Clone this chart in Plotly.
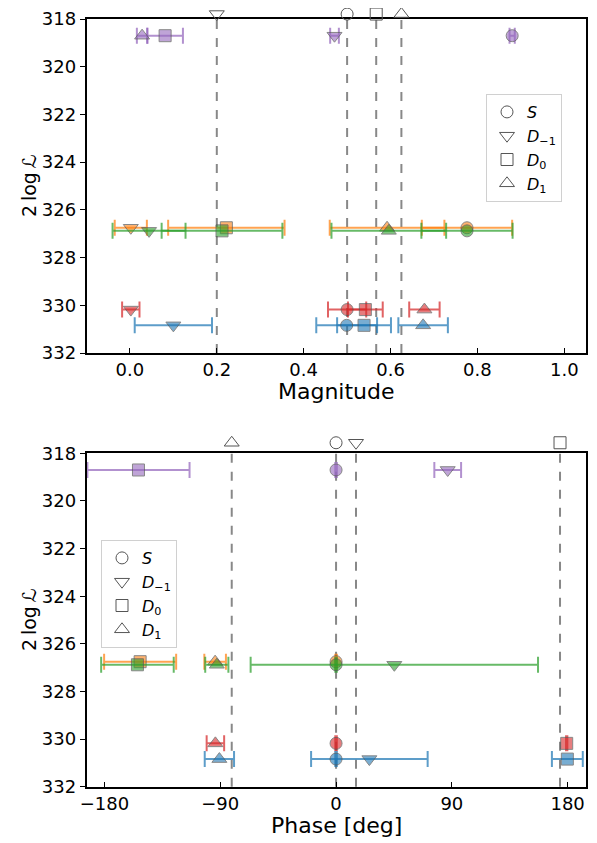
import plotly.graph_objects as go

# ---------------- data ----------------
hypotheses = ["S", "D-1", "D0", "D1"]
hyp_labels = ["<i>S</i>", "<i>D</i><sub>−1</sub>", "<i>D</i><sub>0</sub>", "<i>D</i><sub>1</sub>"]
hyp_symbols = ["circle", "triangle-down", "square", "triangle-up"]

series = ["purple", "orange", "green", "red", "blue"]
loglike = [318.7, 326.75, 326.88, 330.18, 330.84]
colors = ["148,103,189", "255,127,14", "44,160,44", "214,39,40", "31,119,180"]

# magnitude values [S, D-1, D0, D1] and symmetric errors
mag_purple = [0.880, 0.471, 0.081, 0.028]
mag_purple_err = [0.006, 0.010, 0.041, 0.012]
mag_orange = [0.776, 0.002, 0.222, 0.592]
mag_orange_err = [0.104, 0.037, 0.134, 0.132]
mag_green = [0.776, 0.044, 0.212, 0.596]
mag_green_err = [0.105, 0.084, 0.139, 0.132]
mag_red = [0.500, 0.002, 0.542, 0.678]
mag_red_err = [0.044, 0.020, 0.040, 0.035]
mag_blue = [0.499, 0.100, 0.539, 0.675]
mag_blue_err = [0.070, 0.089, 0.062, 0.057]

# phase values [S, D-1, D0, D1] (deg), None = not shown
ph_purple = [0.0, 86.8, -153.6, None]
ph_purple_err = [0.6, 10.4, 39.7, None]
ph_orange = [0.0, None, -152.3, -94.0]
ph_orange_err = [0.6, None, 28.0, 8.4]
ph_green = [0.0, 45.3, -154.4, -92.7]
ph_green_err = [0.6, 111.7, 28.2, 9.0]
ph_red = [0.0, None, 179.3, -93.8]
ph_red_err = [0.6, None, 0.5, 6.8]
ph_blue = [0.0, 25.9, 179.8, -90.7]
ph_blue_err = [0.6, 45.3, 12.0, 11.4]

# best-fit reference values (dashed lines)
best_mag = [0.5, 0.2, 0.567, 0.625]
best_phase = [0.0, 15.5, 174.1, -81.1]

mag_vals = [mag_purple, mag_orange, mag_green, mag_red, mag_blue]
mag_errs = [mag_purple_err, mag_orange_err, mag_green_err, mag_red_err, mag_blue_err]
ph_vals = [ph_purple, ph_orange, ph_green, ph_red, ph_blue]
ph_errs = [ph_purple_err, ph_orange_err, ph_green_err, ph_red_err, ph_blue_err]

FONT = "DejaVu Sans"
OFF = 8  # page body margin
W, H = 597 - OFF, 843 - OFF


def px(x):
    return (x - OFF) / W


def py(y):
    return min(1.0, max(0.0, 1 - (y - OFF) / H))


fig = go.Figure()

sizes = {"circle": 12, "triangle-down": 13, "square": 12, "triangle-up": 13}


def add_series(xvals, xerrs, y, rgb, xa, ya):
    xs, es, syms, sz = [], [], [], []
    for v, e, s in zip(xvals, xerrs, hyp_symbols):
        if v is None:
            continue
        xs.append(v)
        es.append(e)
        syms.append(s)
        sz.append(sizes[s])
    fig.add_trace(go.Scatter(
        x=xs, y=[y] * len(xs), mode="markers", xaxis=xa, yaxis=ya,
        showlegend=False,
        marker=dict(symbol=syms, size=sz, color=f"rgba({rgb},0.85)",
                    line=dict(color="#555555", width=1)),
        error_x=dict(type="data", symmetric=True, array=es,
                     color=f"rgba({rgb},0.72)", thickness=2, width=8),
    ))


for i in range(len(series)):
    add_series(mag_vals[i], mag_errs[i], loglike[i], colors[i], "x", "y")
    add_series(ph_vals[i], ph_errs[i], loglike[i], colors[i], "x2", "y2")

# open markers above the axes (also legend entries), on thin strip axes
for j in range(4):
    fig.add_trace(go.Scatter(
        x=[best_mag[j]], y=[0.45], mode="markers", xaxis="x", yaxis="y3",
        name=hyp_labels[j], legend="legend", cliponaxis=False,
        marker=dict(symbol=hyp_symbols[j] + "-open", size=sizes[hyp_symbols[j]],
                    color="#555555", line=dict(width=1)),
    ))
for j in range(4):
    fig.add_trace(go.Scatter(
        x=[best_phase[j]], y=[0.52], mode="markers", xaxis="x2", yaxis="y4",
        name=hyp_labels[j], legend="legend2", cliponaxis=False,
        marker=dict(symbol=hyp_symbols[j] + "-open", size=sizes[hyp_symbols[j]],
                    color="#555555", line=dict(width=1)),
    ))

shapes = []
for v in best_mag:
    shapes.append(dict(type="line", xref="x", yref="y domain", x0=v, x1=v, y0=0, y1=1,
                       line=dict(color="#888888", width=2, dash="dash"), layer="below"))
for v in best_phase:
    shapes.append(dict(type="line", xref="x2", yref="y2 domain", x0=v, x1=v, y0=0, y1=1,
                       line=dict(color="#888888", width=2, dash="dash"), layer="below"))

x_dom = [px(86.5), px(586)]
top_dom = [py(353), py(19)]
bot_dom = [py(786.7), py(453.3)]
top_strip = [py(19), py(8)]
bot_strip = [py(449), py(437)]

axis_common = dict(showline=True, linecolor="black", linewidth=1.5, mirror=True,
                   showgrid=False, zeroline=False, automargin=False,
                   tickfont=dict(family=FONT, size=18, color="black"),
                   tickcolor="black", ticklen=5)

ylab = "2\u2009log\u2009<i>ℒ</i>"


def ann(text, x, y, size, angle=0):
    return dict(text=text, x=px(x), y=py(y), xref="paper", yref="paper",
                xanchor="center", yanchor="middle", showarrow=False, textangle=angle,
                font=dict(family=FONT, size=size, color="black"))


fig.update_layout(
    width=W, height=H, autosize=False,
    margin=dict(l=0, r=0, t=0, b=0, autoexpand=False),
    paper_bgcolor="white", plot_bgcolor="white",
    font=dict(family=FONT, color="black"),
    shapes=shapes,
    xaxis=dict(domain=x_dom, anchor="y", range=[-0.1, 1.05],
               tickvals=[0, 0.2, 0.4, 0.6, 0.8, 1.0],
               ticktext=["0.0", "0.2", "0.4", "0.6", "0.8", "1.0"],
               ticks="inside", **axis_common),
    yaxis=dict(domain=top_dom, anchor="x", range=[332, 318],
               tickvals=list(range(318, 333, 2)), ticks="outside", **axis_common),
    xaxis2=dict(domain=x_dom, anchor="y2", range=[-194, 194.3],
                tickvals=[-180, -90, 0, 90, 180],
                ticktext=["−180", "−90", "0", "90", "180"],
                ticks="inside", **axis_common),
    yaxis2=dict(domain=bot_dom, anchor="x2", range=[332, 318],
                tickvals=list(range(318, 333, 2)), ticks="outside", **axis_common),
    yaxis3=dict(domain=top_strip, anchor="x", range=[0, 1], visible=False,
                automargin=False, fixedrange=True),
    yaxis4=dict(domain=bot_strip, anchor="x2", range=[0, 1], visible=False,
                automargin=False, fixedrange=True),
    legend=dict(x=px(486), y=py(94), xanchor="left", yanchor="top",
                bgcolor="white", bordercolor="#d0d0d0", borderwidth=1,
                font=dict(family=FONT, size=16, color="black"), itemwidth=30),
    legend2=dict(x=px(101), y=py(540), xanchor="left", yanchor="top",
                 bgcolor="white", bordercolor="#d0d0d0", borderwidth=1,
                 font=dict(family=FONT, size=16, color="black"), itemwidth=30),
    annotations=[
        ann("Magnitude", 336, 391, 22),
        ann("Phase [deg]", 336, 825, 22),
        ann(ylab, 29, 186, 19, -90),
        ann(ylab, 29, 620, 19, -90),
    ],
)

fig.write_html("out.html")
